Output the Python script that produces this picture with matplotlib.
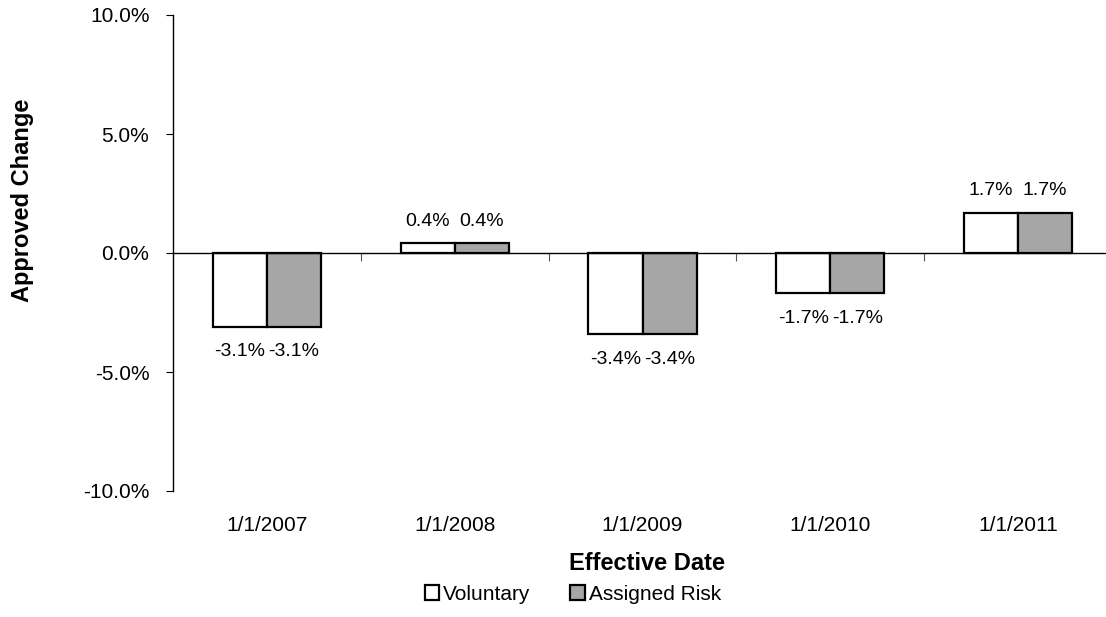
import matplotlib
matplotlib.use("Agg")
import matplotlib.pyplot as plt
import numpy as np
from matplotlib.patches import Patch
from matplotlib.ticker import FuncFormatter

plt.rcParams["font.family"] = ["Liberation Sans", "DejaVu Sans"]

dates = ["1/1/2007", "1/1/2008", "1/1/2009", "1/1/2010", "1/1/2011"]
voluntary = [-3.1, 0.4, -3.4, -1.7, 1.7]
assigned_risk = [-3.1, 0.4, -3.4, -1.7, 1.7]
series_names = ["Voluntary", "Assigned Risk"]
series_colors = ["white", "#a6a6a6"]

W, H = 1106, 617
fig = plt.figure(figsize=(W / 100, H / 100), dpi=100)
ax = fig.add_axes([173 / W, 1 - 491 / H, 939 / W, 476 / H])

x = np.arange(len(dates))
width = 0.288
for offset, values, color in [(-width / 2, voluntary, series_colors[0]),
                              (width / 2, assigned_risk, series_colors[1])]:
    bars = ax.bar(x + offset, values, width, color=color, edgecolor="black", linewidth=1.6, zorder=3)
    for bar, v in zip(bars, values):
        cx = bar.get_x() + bar.get_width() / 2
        if v >= 0:
            ax.annotate(f"{v:.1f}%", (cx, v), xytext=(0, 10), textcoords="offset points",
                        ha="center", va="bottom", fontsize=14)
        else:
            ax.annotate(f"{v:.1f}%", (cx, v), xytext=(0, -12), textcoords="offset points",
                        ha="center", va="top", fontsize=14)

ax.set_xlim(-0.5, len(dates) - 0.5)
ax.set_ylim(-10, 10)
ax.set_yticks([-10, -5, 0, 5, 10])
ax.yaxis.set_major_formatter(FuncFormatter(lambda v, _: f"{v:.1f}%"))
ax.tick_params(axis="y", direction="out", length=5, labelsize=15, pad=12)

for side in ["top", "right", "bottom"]:
    ax.spines[side].set_visible(False)
ax.spines["left"].set_linewidth(1)

# category labels at the bottom, no tick marks
ax.set_xticks(x)
ax.set_xticklabels(dates)
ax.tick_params(axis="x", length=0, labelsize=15, pad=18)

# zero line with boundary ticks
ax.axhline(0, color="black", linewidth=1, zorder=4)
sec = ax.secondary_xaxis(0, transform=ax.transData)
sec.set_xticks(np.arange(0.5, len(dates) - 0.5, 1.0))
sec.set_xticklabels([])
sec.spines["bottom"].set_visible(False)
sec.tick_params(axis="x", direction="out", length=6, width=0.8, color="#555555")

fig.text(647 / W, 1 - 563 / H, "Effective Date", fontsize=17, fontweight="bold",
         ha="center", va="center")
fig.text(23 / W, 1 - 200 / H, "Approved Change", fontsize=17, fontweight="bold",
         ha="center", va="center", rotation=90)

handles = [Patch(facecolor=c, edgecolor="black", linewidth=1.6) for c in series_colors]
fig.legend(handles, series_names, loc="center", bbox_to_anchor=(573 / W, 1 - 594 / H),
           ncol=2, frameon=False, fontsize=15, handlelength=0.7, handleheight=0.7,
           handletextpad=0.2, columnspacing=1.9, borderpad=0)

fig.savefig("out.png", dpi=100)
